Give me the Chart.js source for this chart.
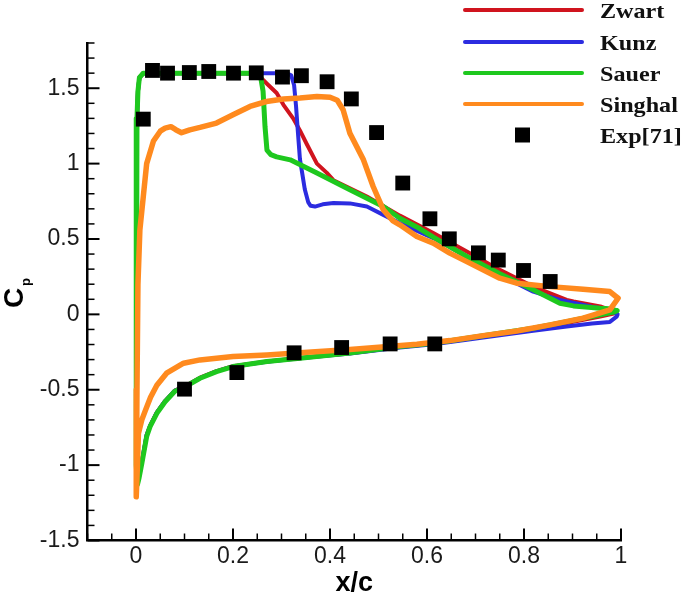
<!DOCTYPE html>
<html>
<head>
<meta charset="utf-8">
<script src="https://cdn.jsdelivr.net/npm/chart.js@4.4.0/dist/chart.umd.min.js"></script>
<style>
  html, body { margin: 0; padding: 0; background: #fff; }
</style>
</head>
<body>
<canvas id="myChart" width="685" height="595"></canvas>
<script>
// tick labels
const xTicks = [0, 0.2, 0.4, 0.6, 0.8, 1];
const yTicks = [-1.5, -1, -0.5, 0, 0.5, 1, 1.5];

// experiment (squares)
const expX = [0.015, 0.034, 0.065, 0.110, 0.150, 0.201, 0.248, 0.302, 0.341, 0.394, 0.444, 0.496, 0.550,
              0.606, 0.646, 0.706, 0.747, 0.799, 0.854, 0.100, 0.208, 0.326, 0.424, 0.524, 0.616];
const expY = [1.295, 1.618, 1.600, 1.604, 1.611, 1.600, 1.602, 1.574, 1.583, 1.543, 1.429, 1.206, 0.871,
              0.634, 0.501, 0.408, 0.360, 0.291, 0.218, -0.496, -0.386, -0.255, -0.220, -0.196, -0.196];

// each curve goes trailing edge -> upper side -> leading edge -> lower side -> trailing edge
const zwart = [[0.99,0.015],[0.96,0.05],[0.902,0.085],[0.888,0.096],[0.819,0.184],[0.75,0.295],[0.682,0.417],
  [0.613,0.539],[0.544,0.655],[0.476,0.782],[0.407,0.89],[0.393,0.94],[0.373,1.0],[0.352,1.13],[0.338,1.22],
  [0.324,1.3],[0.304,1.39],[0.29,1.468],[0.27,1.53],[0.256,1.575],[0.24,1.598],[0.15,1.60],[0.05,1.60],
  [0.015,1.60],[0.007,1.57],[0.004,1.48],[0.002,1.3],[0.001,0.8],[0.0,0.0],[0.0,-0.6],[0.001,-1.0],
  [0.003,-1.12],[0.006,-1.08],[0.012,-0.98],[0.022,-0.8],[0.029,-0.74],[0.043,-0.65],[0.06,-0.575],
  [0.08,-0.505],[0.1,-0.478],[0.132,-0.42],[0.166,-0.377],[0.2,-0.344],[0.27,-0.312],[0.338,-0.29],
  [0.441,-0.258],[0.544,-0.217],[0.613,-0.195],[0.682,-0.163],[0.75,-0.13],[0.819,-0.098],[0.888,-0.058],
  [0.957,-0.015],[0.985,0.005],[0.99,0.015]];

const kunz = [[0.993,0.0],[0.975,0.03],[0.94,0.05],[0.874,0.096],[0.819,0.151],[0.75,0.262],[0.682,0.384],
  [0.613,0.506],[0.544,0.605],[0.51,0.66],[0.476,0.715],[0.441,0.736],[0.407,0.738],[0.385,0.73],[0.369,0.715],
  [0.36,0.72],[0.355,0.745],[0.348,0.83],[0.343,0.93],[0.338,1.03],[0.334,1.2],[0.33,1.38],[0.326,1.52],
  [0.32,1.585],[0.31,1.60],[0.15,1.60],[0.05,1.60],[0.015,1.60],[0.007,1.57],[0.004,1.48],[0.002,1.3],
  [0.001,0.8],[0.0,0.0],[0.0,-0.6],[0.001,-1.0],[0.003,-1.12],[0.006,-1.08],[0.012,-0.98],[0.022,-0.8],
  [0.029,-0.74],[0.043,-0.65],[0.06,-0.575],[0.08,-0.505],[0.1,-0.48],[0.132,-0.422],[0.166,-0.378],
  [0.2,-0.345],[0.27,-0.314],[0.338,-0.292],[0.441,-0.26],[0.544,-0.22],[0.613,-0.198],[0.682,-0.168],
  [0.75,-0.138],[0.819,-0.108],[0.888,-0.08],[0.94,-0.06],[0.977,-0.05],[0.991,-0.015],[0.993,0.0]];

const sauer = [[0.992,0.025],[0.975,0.038],[0.957,0.041],[0.902,0.056],[0.874,0.074],[0.819,0.163],[0.75,0.269],
  [0.682,0.384],[0.613,0.512],[0.579,0.58],[0.544,0.638],[0.51,0.715],[0.441,0.826],[0.373,0.937],[0.318,1.025],
  [0.29,1.045],[0.278,1.06],[0.27,1.09],[0.266,1.246],[0.262,1.48],[0.257,1.575],[0.248,1.60],[0.15,1.60],
  [0.05,1.60],[0.015,1.60],[0.007,1.57],[0.004,1.48],[0.002,1.3],[0.001,0.8],[0.0,0.0],[0.0,-0.6],[0.001,-1.0],
  [0.003,-1.13],[0.006,-1.09],[0.012,-0.99],[0.022,-0.81],[0.029,-0.745],[0.043,-0.656],[0.06,-0.58],
  [0.08,-0.51],[0.1,-0.483],[0.132,-0.424],[0.166,-0.38],[0.2,-0.346],[0.27,-0.313],[0.338,-0.291],
  [0.441,-0.257],[0.544,-0.214],[0.613,-0.191],[0.682,-0.158],[0.75,-0.125],[0.819,-0.092],[0.888,-0.048],
  [0.957,-0.003],[0.985,0.015],[0.992,0.025]];

const singhal = [[0.994,0.107],[0.977,0.151],[0.922,0.167],[0.854,0.184],[0.785,0.207],[0.75,0.24],[0.682,0.35],
  [0.647,0.406],[0.613,0.472],[0.579,0.516],[0.544,0.594],[0.53,0.62],[0.51,0.693],[0.489,0.848],[0.469,1.025],
  [0.441,1.202],[0.427,1.357],[0.415,1.42],[0.4,1.44],[0.373,1.445],[0.338,1.435],[0.304,1.428],[0.269,1.412],
  [0.235,1.379],[0.2,1.324],[0.166,1.269],[0.132,1.24],[0.111,1.224],[0.094,1.205],[0.082,1.225],[0.072,1.245],
  [0.06,1.235],[0.05,1.215],[0.036,1.15],[0.022,1.0],[0.015,0.78],[0.008,0.56],[0.004,0.2],[0.002,-0.5],
  [0.0,-1.0],[0.001,-1.21],[0.003,-1.0],[0.005,-0.79],[0.012,-0.7],[0.019,-0.64],[0.03,-0.55],[0.043,-0.47],
  [0.063,-0.39],[0.098,-0.324],[0.132,-0.302],[0.2,-0.28],[0.27,-0.269],[0.338,-0.255],[0.441,-0.233],
  [0.579,-0.198],[0.647,-0.174],[0.716,-0.141],[0.785,-0.11],[0.854,-0.07],[0.922,-0.025],[0.977,0.03],
  [0.994,0.107]];

const tickFont = 'Arial, "Liberation Sans", sans-serif';

function curve(label, pts, color, width, order) {
	return {
		label: label,
		data: pts.map(p => ({ x: p[0], y: p[1] })),
		showLine: true,
		borderColor: color,
		backgroundColor: color,
		borderWidth: width,
		borderJoinStyle: 'round',
		borderCapStyle: 'round',
		pointRadius: 0,
		tension: 0,
		fill: false,
		order: order
	};
}

// ticks point inward, titles and legend drawn over the chart
const decor = {
	id: 'decor',
	afterDraw(chart) {
		const { ctx, chartArea: a, scales: { x, y } } = chart;
		ctx.save();
		ctx.strokeStyle = '#000';
		for (let v = -15; v <= 18; v++) {
			const py = y.getPixelForValue(v / 10);
			const major = v % 5 === 0;
			ctx.lineWidth = major ? 2 : 1.5;
			ctx.beginPath();
			ctx.moveTo(a.left, py);
			ctx.lineTo(a.left + (major ? 12 : 7), py);
			ctx.stroke();
		}
		for (let v = -2; v <= 20; v++) {
			const px = x.getPixelForValue(v / 20);
			const major = v % 4 === 0;
			ctx.lineWidth = major ? 2 : 1.5;
			ctx.beginPath();
			ctx.moveTo(px, a.bottom);
			ctx.lineTo(px, a.bottom - (major ? 12 : 7));
			ctx.stroke();
		}

		ctx.fillStyle = '#000';
		ctx.textBaseline = 'alphabetic';
		ctx.textAlign = 'center';
		ctx.font = 'bold 27px ' + tickFont;
		ctx.fillText('x/c', (a.left + a.right) / 2, 591);

		ctx.save();
		ctx.translate(23, 308);
		ctx.rotate(-Math.PI / 2);
		ctx.textAlign = 'left';
		ctx.font = 'bold 28px ' + tickFont;
		ctx.fillText('C', 0, 0);
		ctx.font = 'bold 13px ' + tickFont;
		ctx.fillText('p', 22, 6.5);
		ctx.restore();

		// legend
		const rowY = [10, 42, 73, 104, 135];
		chart.data.datasets.forEach((ds, i) => {
			const ry = rowY[i];
			if (ds.showLine) {
				ctx.strokeStyle = ds.borderColor;
				ctx.lineWidth = 4;
				ctx.lineCap = 'round';
				ctx.beginPath();
				ctx.moveTo(465, ry);
				ctx.lineTo(582, ry);
				ctx.stroke();
			} else {
				ctx.fillStyle = '#000';
				ctx.fillRect(515, ry - 7.5, 15, 15);
			}
			ctx.save();
			ctx.fillStyle = '#111';
			ctx.textAlign = 'left';
			ctx.font = 'bold 21px "Liberation Serif", "Times New Roman", serif';
			ctx.translate(600, ry + 8);
			ctx.scale(1.15, 1);
			ctx.fillText(ds.label, 0, 0);
			ctx.restore();
		});
		ctx.restore();
	}
};

const ctx = document.getElementById('myChart').getContext('2d');
new Chart(ctx, {
	type: 'scatter',
	data: {
		datasets: [
			curve('Zwart', zwart, '#d0141e', 4, 4),
			curve('Kunz', kunz, '#2c2ce0', 4, 3),
			curve('Sauer', sauer, '#1ec81e', 5, 2),
			curve('Singhal', singhal, '#ff8a1e', 5.5, 1),
			{
				label: 'Exp[71]',
				data: expX.map((v, i) => ({ x: v, y: expY[i] })),
				showLine: false,
				pointStyle: 'rect',
				pointRadius: 10.5,
				backgroundColor: '#000',
				borderWidth: 0,
				order: 0
			}
		]
	},
	options: {
		responsive: false,
		animation: false,
		events: [],
		clip: false,
		layout: { padding: { left: 27.5, right: 64, top: 43, bottom: 14.5 } },
		plugins: {
			legend: { display: false },
			tooltip: { enabled: false }
		},
		scales: {
			x: {
				type: 'linear',
				min: -0.1,
				max: 1,
				grid: { display: false, drawTicks: false },
				border: { display: true, color: '#000', width: 2.5 },
				ticks: {
					padding: 2,
					autoSkip: false,
					maxRotation: 0,
					color: '#1a1a1a',
					font: { family: tickFont, size: 23 },
					callback: v => String(v)
				},
				afterBuildTicks: s => { s.ticks = xTicks.map(v => ({ value: v })); },
				afterFit: s => { s.height = 40; }
			},
			y: {
				type: 'linear',
				min: -1.5,
				max: 1.8,
				grid: { display: false, drawTicks: false },
				border: { display: true, color: '#000', width: 2.5 },
				ticks: {
					padding: 8,
					autoSkip: false,
					color: '#1a1a1a',
					font: { family: tickFont, size: 23 },
					callback: v => String(v)
				},
				afterBuildTicks: s => { s.ticks = yTicks.map(v => ({ value: v })); },
				afterFit: s => { s.width = 60; }
			}
		}
	},
	plugins: [decor]
});
</script>
</body>
</html>
